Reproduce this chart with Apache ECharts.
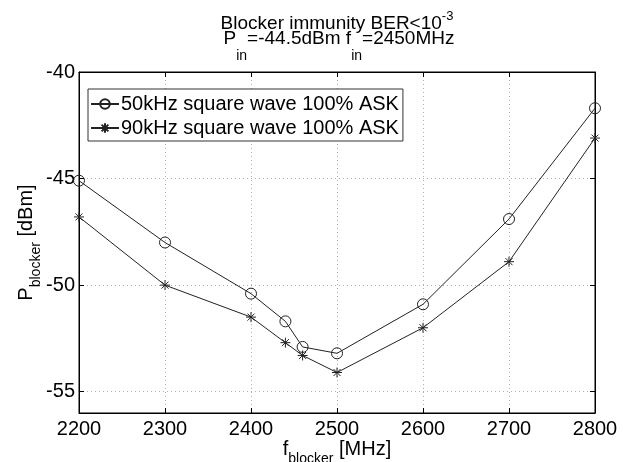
<!DOCTYPE html>
<html>
<head>
<meta charset="utf-8">
<script src="https://cdn.jsdelivr.net/npm/echarts@6/dist/echarts.min.js"></script>
<style>
  html, body { margin: 0; padding: 0; background: #fff; }
  #main { width: 633px; height: 462px; }
</style>
</head>
<body>
<div id="main"></div>
<script>
var freq = [2200, 2300, 2400, 2440, 2460, 2500, 2600, 2700, 2800];
var ask50 = [-45.1, -48.0, -50.4, -51.7, -52.9, -53.2, -50.9, -46.9, -41.7];
var ask90 = [-46.8, -50.0, -51.5, -52.7, -53.3, -54.1, -52.0, -48.9, -43.1];
var seriesNames = ['50kHz square wave 100% ASK', '90kHz square wave 100% ASK'];
var yTicks = [-55, -50, -45, -40];

var FONT = '"Liberation Sans", Arial, sans-serif';
var star = 'path://M0,-1L0,1M-1,0L1,0M-0.7,-0.7L0.7,0.7M-0.7,0.7L0.7,-0.7';

function pairs(xs, ys) {
  var out = [];
  for (var i = 0; i < xs.length; i++) out.push([xs[i], ys[i]]);
  return out;
}

var chart = echarts.init(document.getElementById('main'), null, { renderer: 'canvas' });

var tickStyle = { show: true, inside: true, length: 5, lineStyle: { color: '#000', width: 1 } };
var gridLine = { show: true, lineStyle: { color: '#b0b0b0', type: [1, 3], width: 1 } };
var nameRich = {
  f: { fontFamily: FONT, fontSize: 20, color: '#000', lineHeight: 14, verticalAlign: 'top' },
  s: { fontFamily: FONT, fontSize: 14, color: '#000', padding: [13, 0, 0, 0], verticalAlign: 'top' }
};
// title text styles: all tokens top aligned, sub/superscript shift by padding
var titleRich = {
  t: { fontFamily: FONT, fontSize: 19, fontWeight: 'normal', color: '#000', padding: [4, 0, 0, 0], verticalAlign: 'top' },
  sup: { fontFamily: FONT, fontSize: 13, fontWeight: 'normal', color: '#000', verticalAlign: 'top' },
  b: { fontFamily: FONT, fontSize: 19, fontWeight: 'normal', color: '#000', verticalAlign: 'top' },
  sub: { fontFamily: FONT, fontSize: 14, fontWeight: 'normal', color: '#000', padding: [20, 0, 0, 0], verticalAlign: 'top' }
};

var option = {
  backgroundColor: '#fff',
  animation: false,
  title: [{
    left: 337,
    top: 10,
    padding: 0,
    textAlign: 'center',
    text: '{t|Blocker immunity BER<10}{sup|-3}',
    textStyle: { fontWeight: 'normal', rich: titleRich }
  }, {
    left: 339,
    top: 29,
    padding: 0,
    textAlign: 'center',
    text: '{b|P}{sub|in}{b|=-44.5dBm f}{sub|in}{b|=2450MHz}',
    textStyle: { fontWeight: 'normal', rich: titleRich }
  }],
  legend: {
    left: 88,
    top: 89,
    orient: 'vertical',
    data: seriesNames,
    backgroundColor: '#fff',
    borderColor: '#333',
    borderWidth: 1,
    padding: [5, 4, 3, 2],
    itemGap: 4,
    itemWidth: 28,
    itemHeight: 12,
    textStyle: { fontFamily: FONT, fontSize: 20, color: '#000', padding: [0, 0, 0, -3] }
  },
  grid: {
    left: 79, right: 38, top: 72, bottom: 49,
    outerBoundsMode: 'none',
    show: true, borderColor: '#000', borderWidth: 1, backgroundColor: 'transparent'
  },
  xAxis: [{
    type: 'value',
    min: 2200,
    max: 2800,
    interval: 100,
    position: 'bottom',
    name: '{f|f}{s|blocker}{f| [MHz]}',
    nameLocation: 'middle',
    nameGap: 26,
    nameMoveOverlap: false,
    nameTextStyle: { rich: nameRich },
    axisLine: { show: true, lineStyle: { color: '#000', width: 1 } },
    axisTick: tickStyle,
    axisLabel: {
      fontFamily: FONT, fontSize: 20, color: '#000', margin: 6,
      formatter: function (v) { return String(v); }
    },
    splitLine: gridLine
  }, {
    type: 'value',
    min: 2200,
    max: 2800,
    interval: 100,
    position: 'top',
    axisLine: { show: true, lineStyle: { color: '#000', width: 1 } },
    axisTick: tickStyle,
    axisLabel: { show: false },
    splitLine: { show: false }
  }],
  yAxis: [{
    type: 'value',
    min: -56,
    max: -40,
    position: 'left',
    name: '{f|P}{s|blocker}{f| [dBm]}',
    nameLocation: 'middle',
    nameRotate: 90,
    nameGap: 36,
    nameMoveOverlap: false,
    nameTextStyle: { rich: nameRich },
    axisLine: { show: true, lineStyle: { color: '#000', width: 1 } },
    axisTick: Object.assign({ customValues: yTicks }, tickStyle),
    axisLabel: { customValues: yTicks, fontFamily: FONT, fontSize: 20, color: '#000', margin: 4 },
    splitLine: gridLine
  }, {
    type: 'value',
    min: -56,
    max: -40,
    position: 'right',
    axisLine: { show: true, lineStyle: { color: '#000', width: 1 } },
    axisTick: Object.assign({ customValues: yTicks }, tickStyle),
    axisLabel: { show: false },
    splitLine: { show: false }
  }],
  series: [{
    name: seriesNames[0],
    type: 'line',
    data: pairs(freq, ask50),
    symbol: 'circle',
    symbolSize: 11,
    showAllSymbol: true,
    lineStyle: { color: '#222', width: 1 },
    itemStyle: { color: 'none', borderColor: '#222', borderWidth: 1 }
  }, {
    name: seriesNames[1],
    type: 'line',
    data: pairs(freq, ask90),
    symbol: star,
    symbolSize: 10,
    showAllSymbol: true,
    lineStyle: { color: '#222', width: 1 },
    itemStyle: { color: 'none', borderColor: '#222', borderWidth: 1 }
  }]
};

chart.setOption(option);
</script>
</body>
</html>
